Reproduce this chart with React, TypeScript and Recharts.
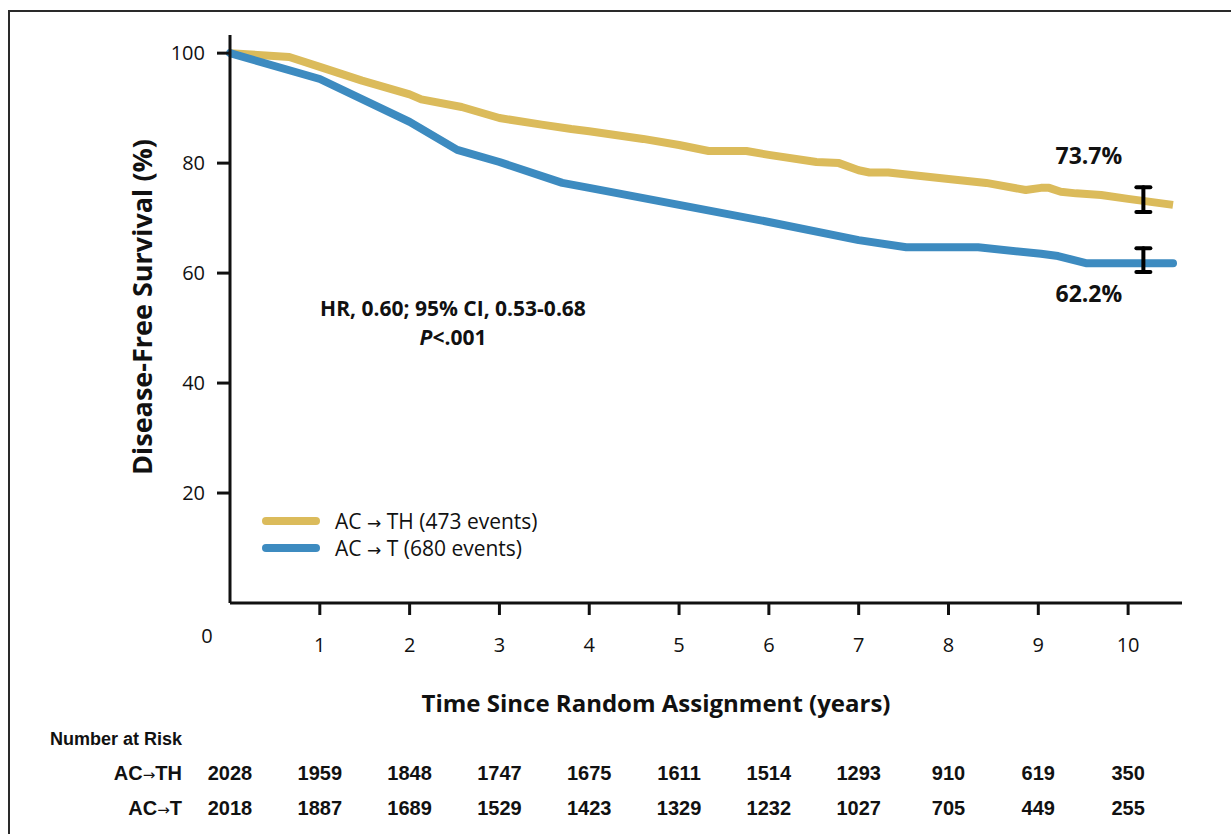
import React from 'react';
import {
  ComposedChart,
  Line,
  Scatter,
  ErrorBar,
  XAxis,
  YAxis,
  Legend,
  LabelList,
} from 'recharts';

// AC -> TH curve (years, DFS %)
const thYears = [0, 0.66, 1, 1.47, 2, 2.13, 2.58, 3, 3.47, 3.8, 4, 4.6, 5, 5.33, 5.75, 6, 6.53, 6.78, 7, 7.12, 7.33, 8, 8.42, 8.86, 9.03, 9.12, 9.25, 9.42, 9.7, 10, 10.5];
const thDfs = [100, 99.3, 97.5, 95, 92.5, 91.6, 90.2, 88.2, 87, 86.2, 85.8, 84.4, 83.3, 82.2, 82.2, 81.5, 80.2, 80, 78.7, 78.3, 78.3, 77.1, 76.4, 75.1, 75.5, 75.5, 74.8, 74.5, 74.2, 73.5, 72.4];

// AC -> T curve
const tYears = [0, 1, 2, 2.53, 3, 3.7, 4, 5, 6, 7, 7.53, 8.33, 9.03, 9.22, 9.53, 10.5];
const tDfs = [100, 95.3, 87.5, 82.4, 80.2, 76.4, 75.5, 72.4, 69.3, 66, 64.7, 64.7, 63.5, 63.1, 61.8, 61.8];

// 10-year estimates with 95% CI
const ciYear = 10.17;
const ciTH = { est: 73.3, lo: 71.1, hi: 75.6, label: '73.7%' };
const ciT = { est: 61.8, lo: 60.2, hi: 64.5, label: '62.2%' };

const xTicks = [0, 1, 2, 3, 4, 5, 6, 7, 8, 9, 10];
const yTicks = [20, 40, 60, 80, 100];
const riskTH = [2028, 1959, 1848, 1747, 1675, 1611, 1514, 1293, 910, 619, 350];
const riskT = [2018, 1887, 1689, 1529, 1423, 1329, 1232, 1027, 705, 449, 255];

const GOLD = '#dbbb5b';
const BLUE = '#3d8bc0';
const FONT = '"Open Sans", sans-serif';
const NARROW = '"Liberation Sans Narrow", "Liberation Sans", sans-serif';
const ARROW_FONT = '"DejaVu Sans", sans-serif';
const ARROW = '\u2192';

const thData = thYears.map((t, i) => ({ t, v: thDfs[i] }));
const tData = tYears.map((t, i) => ({ t, v: tDfs[i] }));
const ciThData = [{ t: ciYear, v: ciTH.est, err: [ciTH.est - ciTH.lo, ciTH.hi - ciTH.est], label: ciTH.label }];
const ciTData = [{ t: ciYear, v: ciT.est, err: [ciT.est - ciT.lo, ciT.hi - ciT.est], label: ciT.label }];

const legendItems = [
  { arm: 'TH', rest: ' (473 events)', color: GOLD },
  { arm: 'T', rest: ' (680 events)', color: BLUE },
];

const MainTick = (props: any) => {
  const { x, y, payload } = props;
  if (payload.value === 0) {
    return (
      <text x={x - 23} y={y + 28} textAnchor="middle" fontFamily={FONT} fontSize={20} fill="#111">
        0
      </text>
    );
  }
  return (
    <g>
      <line x1={x} y1={y - 12} x2={x} y2={y} stroke="#111" strokeWidth={3} />
      <text x={x} y={y + 37} textAnchor="middle" fontFamily={FONT} fontSize={20} fill="#111">
        {payload.value}
      </text>
    </g>
  );
};

const riskTick = (values: number[], arm: string, title?: string) => (props: any) => {
  const { x, y, payload, index } = props;
  return (
    <g>
      {index === 0 && title && (
        <text x={50} y={y - 8} fontFamily={NARROW} fontWeight="bold" fontSize={18} fill="#111">
          {title}
        </text>
      )}
      {index === 0 && (
        <text x={x - 48} y={y + 27} textAnchor="end" fontFamily={NARROW} fontWeight="bold" fontSize={20} fill="#111">
          AC<tspan fontFamily={ARROW_FONT} fontWeight="normal" fontSize={15}>{ARROW}</tspan>{arm}
        </text>
      )}
      <text x={x} y={y + 27} textAnchor="middle" fontFamily={NARROW} fontWeight="bold" fontSize={20} fill="#111">
        {values[payload.value]}
      </text>
    </g>
  );
};

const renderLegend = () => (
  <div style={{ fontFamily: FONT, fontSize: 21, color: '#111' }}>
    {legendItems.map((item) => (
      <div key={item.arm} style={{ display: 'flex', alignItems: 'center', height: 27 }}>
        <span style={{ display: 'inline-block', width: 58, height: 8, borderRadius: 4, background: item.color, marginRight: 15 }} />
        <span>
          AC <span style={{ fontFamily: ARROW_FONT, fontSize: 17 }}>{ARROW}</span> {item.arm}
          {item.rest}
        </span>
      </div>
    ))}
  </div>
);

const ciLabel = (dy: number) => (props: any) => {
  const { x, y, value } = props;
  return (
    <text x={x - 50} y={y + dy} textAnchor="middle" fontFamily={FONT} fontWeight="bold" fontSize={23} fill="#111">
      {value}
    </text>
  );
};

export default function App() {
  return (
    <div style={{ position: 'relative', width: 1231, height: 834, overflow: 'hidden', background: '#fff' }}>
      <style>{'body{margin:0}'}</style>
      <div
        style={{
          position: 'absolute',
          left: 8,
          top: 10,
          width: 1400,
          height: 900,
          borderTop: '2px solid #2a2a2a',
          borderLeft: '2px solid #2a2a2a',
        }}
      />
      <div style={{ position: 'absolute', left: 0, top: 0 }}>
        <ComposedChart width={1231} height={834} margin={{ top: 35, right: 49, left: 100, bottom: 12 }}>
          <XAxis
            xAxisId="main"
            dataKey="t"
            type="number"
            domain={[0, 10.6]}
            ticks={xTicks}
            interval={0}
            height={150}
            axisLine={{ stroke: '#111', strokeWidth: 3 }}
            tickLine={false}
            tickSize={12}
            tickMargin={0}
            tick={<MainTick />}
            label={{
              value: 'Time Since Random Assignment (years)',
              position: 'center',
              dx: -50,
              dy: 25,
              style: { fontFamily: FONT, fontWeight: 'bold', fontSize: 24, fill: '#111' },
            }}
          />
          <XAxis
            xAxisId="risk1"
            dataKey="t"
            type="number"
            domain={[0, 10.6]}
            ticks={xTicks}
            interval={0}
            height={35}
            axisLine={false}
            tickLine={false}
            tickSize={0}
            tickMargin={0}
            tick={riskTick(riskTH, 'TH', 'Number at Risk')}
          />
          <XAxis
            xAxisId="risk2"
            dataKey="t"
            type="number"
            domain={[0, 10.6]}
            ticks={xTicks}
            interval={0}
            height={34}
            axisLine={false}
            tickLine={false}
            tickSize={0}
            tickMargin={0}
            tick={riskTick(riskT, 'T')}
          />
          <YAxis
            dataKey="v"
            type="number"
            domain={[0, 103.3]}
            ticks={yTicks}
            interval={0}
            width={130}
            axisLine={{ stroke: '#111', strokeWidth: 3 }}
            tickLine={{ stroke: '#111', strokeWidth: 3 }}
            tickSize={13}
            tickMargin={12}
            tick={{ fontFamily: FONT, fontSize: 20, fill: '#111' }}
            label={{
              value: 'Disease-Free Survival (%)',
              angle: -90,
              position: 'center',
              dx: -23,
              dy: -12,
              style: { fontFamily: FONT, fontWeight: 'bold', fontSize: 27, fill: '#111', textAnchor: 'middle' },
            }}
          />
          <Legend
            layout="horizontal"
            verticalAlign="middle"
            align="center"
            content={renderLegend}
            wrapperStyle={{ left: 262, top: 507, width: 'auto' }}
          />
          {/* invisible series so the number-at-risk axes are drawn */}
          <Line xAxisId="risk1" data={thData} dataKey="v" stroke="none" dot={false} activeDot={false} legendType="none" isAnimationActive={false} />
          <Line xAxisId="risk2" data={tData} dataKey="v" stroke="none" dot={false} activeDot={false} legendType="none" isAnimationActive={false} />
          <Line
            xAxisId="main"
            data={thData}
            dataKey="v"
            stroke={GOLD}
            strokeWidth={8}
            strokeLinecap="butt"
            strokeLinejoin="round"
            dot={false}
            activeDot={false}
            isAnimationActive={false}
          />
          <Line
            xAxisId="main"
            data={tData}
            dataKey="v"
            stroke={BLUE}
            strokeWidth={8}
            strokeLinecap="round"
            strokeLinejoin="round"
            dot={false}
            activeDot={false}
            isAnimationActive={false}
          />
          <Scatter xAxisId="main" data={ciThData} dataKey="v" shape={() => <g />} isAnimationActive={false} legendType="none">
            <ErrorBar dataKey="err" direction="y" width={7} stroke="#000" strokeWidth={4} strokeLinecap="round" />
            <LabelList dataKey="label" content={ciLabel(-31)} />
          </Scatter>
          <Scatter xAxisId="main" data={ciTData} dataKey="v" shape={() => <g />} isAnimationActive={false} legendType="none">
            <ErrorBar dataKey="err" direction="y" width={7} stroke="#000" strokeWidth={4} strokeLinecap="round" />
            <LabelList dataKey="label" content={ciLabel(43)} />
          </Scatter>
        </ComposedChart>
      </div>
      <div
        style={{
          position: 'absolute',
          left: 253,
          top: 294,
          width: 400,
          textAlign: 'center',
          fontFamily: FONT,
          fontWeight: 'bold',
          fontSize: 21,
          lineHeight: '29px',
          color: '#111',
        }}
      >
        <div>HR, 0.60; 95% CI, 0.53-0.68</div>
        <div>
          <i>P</i>&lt;.001
        </div>
      </div>
    </div>
  );
}
